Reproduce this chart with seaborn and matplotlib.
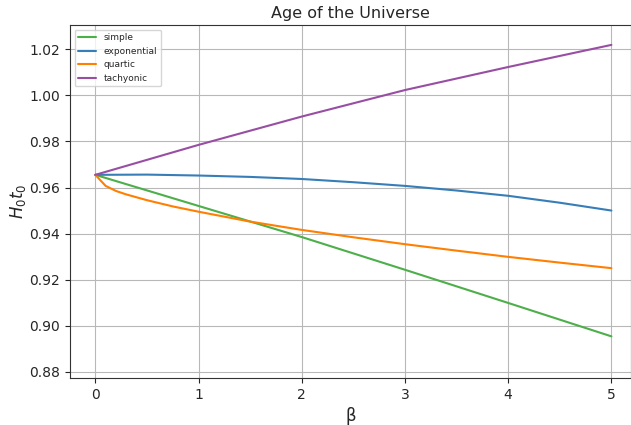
import numpy as np
import pandas as pd
import matplotlib
matplotlib.use("Agg")
import matplotlib.pyplot as plt
import seaborn as sns

beta_simple = [0, 1, 2, 3, 4, 5]
simple = [0.9655, 0.9520, 0.9385, 0.9243, 0.9099, 0.8954]

beta_exp = [0, 0.5, 1, 1.5, 2, 2.5, 3, 3.5, 4, 4.5, 5]
exponential = [0.9655, 0.9656, 0.9652, 0.9646, 0.9637, 0.9623, 0.9607, 0.9587, 0.9564, 0.9534, 0.9500]

beta_quartic = [0, 0.1, 0.2, 0.3, 0.5, 0.75, 1, 1.5, 2, 2.5, 3, 3.5, 4, 4.5, 5]
quartic = [0.9655, 0.9607, 0.9585, 0.9570, 0.9545, 0.9518, 0.9495, 0.9452, 0.9416, 0.9384, 0.9354, 0.9326, 0.9299, 0.9274, 0.9250]

beta_tach = [0, 1, 2, 3, 4, 5]
tachyonic = [0.9655, 0.9785, 0.9908, 1.0023, 1.0123, 1.0219]

series_names = ["simple", "exponential", "quartic", "tachyonic"]
colors = ["#4daf4a", "#377eb8", "#ff7f00", "#984ea3"]

frames = []
for name, xs, ys in [("simple", beta_simple, simple),
                     ("exponential", beta_exp, exponential),
                     ("quartic", beta_quartic, quartic),
                     ("tachyonic", beta_tach, tachyonic)]:
    frames.append(pd.DataFrame({"beta": xs, "H0t0": ys, "model": name}))
df = pd.concat(frames, ignore_index=True)

sns.set_style("white")
fig = plt.figure(figsize=(6.31, 4.25), dpi=100)
ax = fig.add_axes([0.111, 0.111, 0.889, 0.83])
sns.lineplot(data=df, x="beta", y="H0t0", hue="model", hue_order=series_names,
             palette=colors, ax=ax, linewidth=1.5)
ax.grid(True, color="#b8b8b8", linewidth=0.8)
ax.set_xlim(-0.245, 5.19)
ax.set_ylim(0.8774, 1.0305)
ax.set_xticks([0, 1, 2, 3, 4, 5])
ax.set_yticks([0.88, 0.90, 0.92, 0.94, 0.96, 0.98, 1.00, 1.02])
ax.tick_params(axis="both", direction="out", length=3.5, width=0.8, labelsize=10, left=True, bottom=True)
ax.set_xlabel("β", fontsize=12)
ax.set_ylabel("$H_0t_0$", fontsize=12, labelpad=1)
ax.set_title("Age of the Universe", fontsize=11.5, pad=5)
for s in ax.spines.values():
    s.set_color("#333333")
ax.legend(loc="upper left", fontsize=6.5, frameon=True)
fig.savefig("out.png", dpi=100)
